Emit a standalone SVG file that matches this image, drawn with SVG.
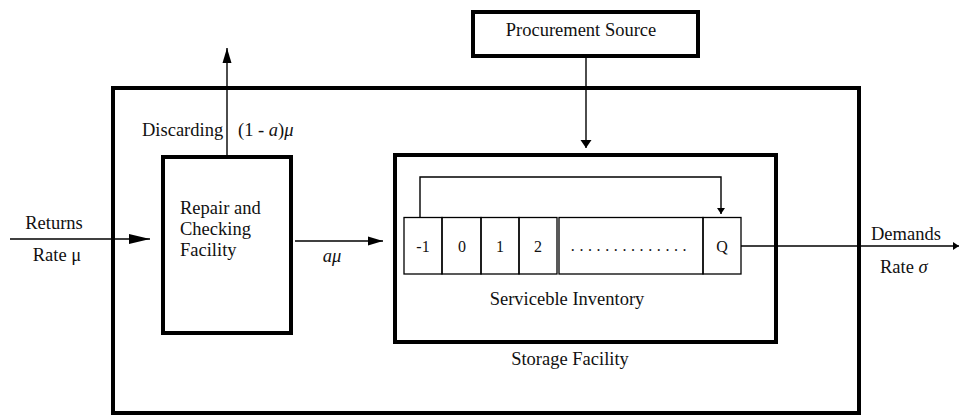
<svg xmlns="http://www.w3.org/2000/svg" width="959" height="415" viewBox="0 0 959 415">
<defs>
<style>
.box{fill:none;stroke:#000;stroke-width:4}
.cell{fill:none;stroke:#000;stroke-width:1.3}
.ln{fill:none;stroke:#000;stroke-width:1.4}
.t{font-family:"Liberation Serif","Times New Roman","DejaVu Serif",serif;font-size:18.5px;fill:#111}
.c{font-family:"Liberation Serif","Times New Roman","DejaVu Serif",serif;font-size:16px;fill:#111;text-anchor:middle}
.m{text-anchor:middle}
.i{font-style:italic}
</style>
<marker id="ahL" markerUnits="userSpaceOnUse" markerWidth="22" markerHeight="12" refX="21" refY="6" orient="auto"><path d="M0,1 L21,6 L0,11 Z" fill="#000"/></marker>
<marker id="ahM" markerUnits="userSpaceOnUse" markerWidth="16" markerHeight="12" refX="15" refY="6" orient="auto"><path d="M0,1.5 L15,6 L0,10.5 Z" fill="#000"/></marker>
<marker id="ahS" markerUnits="userSpaceOnUse" markerWidth="10" markerHeight="12" refX="8" refY="6" orient="auto"><path d="M0,0.5 L8,6 L0,11.5 Z" fill="#000"/></marker>
<marker id="ahT" markerUnits="userSpaceOnUse" markerWidth="8" markerHeight="10" refX="6" refY="5" orient="auto"><path d="M0,1 L6,5 L0,9 Z" fill="#000"/></marker>
</defs>
<g id="storage-outer">
<rect class="box" x="113" y="88" width="746" height="325"/>
</g>
<g id="procurement">
<rect class="box" x="473" y="12" width="225" height="44"/>
<text class="t m" x="581" y="36">Procurement Source</text>
</g>
<g id="repair">
<rect class="box" x="163" y="157" width="128" height="176"/>
<text class="t" x="180" y="214">Repair and</text>
<text class="t" x="180" y="235">Checking</text>
<text class="t" x="180" y="256">Facility</text>
</g>
<g id="storage-facility">
<rect class="box" x="395" y="155" width="381" height="187"/>
<text class="t m" x="570" y="365">Storage Facility</text>
</g>
<g id="inventory">
<rect class="cell" x="404" y="217.5" width="38" height="56.5"/>
<rect class="cell" x="442" y="217.5" width="39" height="56.5"/>
<rect class="cell" x="481" y="217.5" width="38" height="56.5"/>
<rect class="cell" x="519" y="217.5" width="38" height="56.5"/>
<rect class="cell" x="559" y="217.5" width="144" height="56.5"/>
<rect class="cell" x="703" y="217.5" width="38" height="56.5"/>
<text class="c" x="423" y="252">-1</text>
<text class="c" x="462" y="252">0</text>
<text class="c" x="500" y="252">1</text>
<text class="c" x="538" y="252">2</text>
<text class="c" x="631" y="251" letter-spacing="4.6">..............</text>
<text class="c" x="722" y="252">Q</text>
<text class="t m" x="567" y="305">Serviceble Inventory</text>
</g>
<g id="connectors">
<line class="ln" x1="10" y1="239" x2="150" y2="239" marker-end="url(#ahL)"/>
<line class="ln" x1="227" y1="157" x2="227" y2="48" marker-end="url(#ahM)"/>
<line class="ln" x1="295" y1="241" x2="383" y2="241" marker-end="url(#ahM)"/>
<line class="ln" x1="586" y1="57" x2="586" y2="148" marker-end="url(#ahS)"/>
<polyline class="ln" points="420,217.5 420,177 721,177 721,214" marker-end="url(#ahT)"/>
<line class="ln" x1="741" y1="246" x2="959" y2="246" marker-end="url(#ahT)"/>
</g>
<g id="labels">
<text class="t m" x="54" y="229">Returns</text>
<text class="t m" x="57" y="261">Rate μ</text>
<text class="t" x="142" y="136">Discarding</text>
<text class="t" x="238" y="136" font-size="20">(1 - <tspan class="i">a</tspan>)<tspan class="i">μ</tspan></text>
<text class="t m i" x="332" y="262" font-size="20">aμ</text>
<text class="t" x="871" y="240">Demands</text>
<text class="t" x="880" y="273">Rate <tspan class="i">σ</tspan></text>
</g>
</svg>
